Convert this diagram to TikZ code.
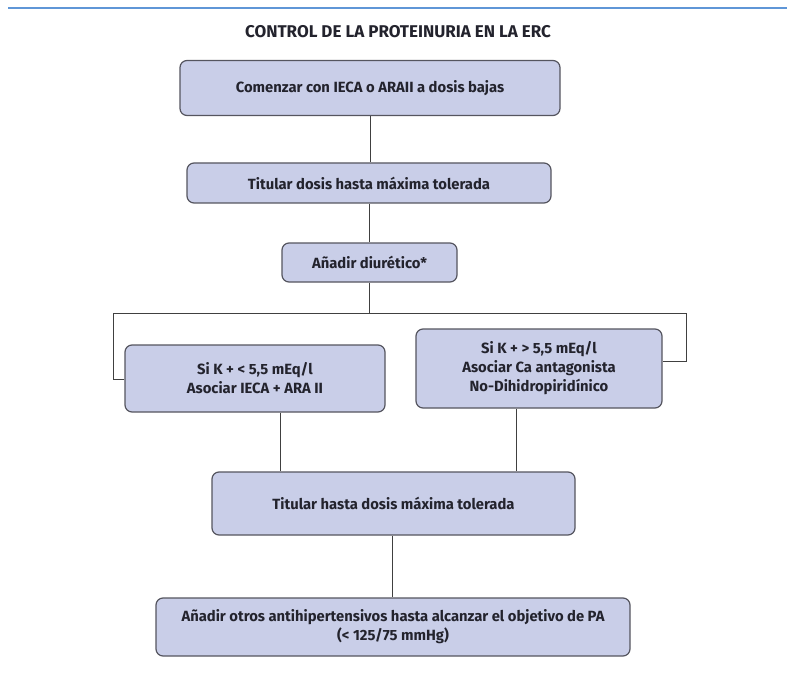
\documentclass[tikz,border=0pt]{standalone}
\usepackage{fontspec}
\setmainfont{Fira Sans}
\definecolor{boxfill}{RGB}{201,206,232}
\definecolor{boxline}{RGB}{85,85,95}
\definecolor{topblue}{RGB}{95,150,215}
\definecolor{txt}{RGB}{35,35,45}
\begin{document}
\begin{tikzpicture}[x=1pt,y=-1pt,
  box/.style={draw=boxline, fill=boxfill, line width=1.2pt, rounded corners=7pt,
    align=center, font=\fontsize{14.8}{19}\selectfont\bfseries, text=txt, inner sep=0pt},
  conn/.style={draw=black!75, line width=1pt}]
\useasboundingbox (0,0) rectangle (787,679);
\draw[topblue, line width=2pt] (8,8) -- (787,8);
\node[font=\fontsize{17}{20}\selectfont\bfseries, text=txt] (title) at (398,32) {CONTROL DE LA PROTEINURIA EN LA ERC};
\node[box, minimum width=380pt, minimum height=55pt] (b1) at (370,88) {Comenzar con IECA o ARAII a dosis bajas};
\node[box, minimum width=364pt, minimum height=40pt] (b2) at (369,183) {Titular dosis hasta máxima tolerada};
\node[box, minimum width=175pt, minimum height=39pt] (b3) at (369.5,262.5) {Añadir diurético*};
\node[box, minimum width=260pt, minimum height=67pt] (b4) at (255,378.5) {Si K + < 5,5 mEq/l\\Asociar IECA + ARA II};
\node[box, minimum width=246pt, minimum height=79pt] (b5) at (539,368.5) {Si K + > 5,5 mEq/l\\Asociar Ca antagonista\\No-Dihidropiridínico};
\node[box, minimum width=363pt, minimum height=63pt] (b6) at (393.5,503.5) {Titular hasta dosis máxima tolerada};
\node[box, minimum width=474pt, minimum height=58pt] (b7) at (393,627) {Añadir otros antihipertensivos hasta alcanzar el objetivo de PA\\(< 125/75 mmHg)};
\coordinate (split) at (369.5,313);
\coordinate (lt) at (113,313);
\coordinate (rt) at (686,313);
\coordinate (lb) at (113,379);
\coordinate (rb) at (686,361);
\draw[conn] (b1.south) -- (b1.south |- b2.north);
\draw[conn] (b2.south) -- (b2.south |- b3.north);
\draw[conn] (b3.south) -- (split);
\draw[conn] (b4.west |- lb) -- (lb) -- (lt) -- (rt) -- (rb) -- (b5.east |- rb);
\draw[conn] ([xshift=25pt]b4.south) -- ([xshift=25pt]b4.south |- b6.north);
\draw[conn] ([xshift=-23pt]b5.south) -- ([xshift=-23pt]b5.south |- b6.north);
\draw[conn] ([xshift=-1pt]b6.south) -- ([xshift=-1pt]b6.south |- b7.north);
\end{tikzpicture}
\end{document}
